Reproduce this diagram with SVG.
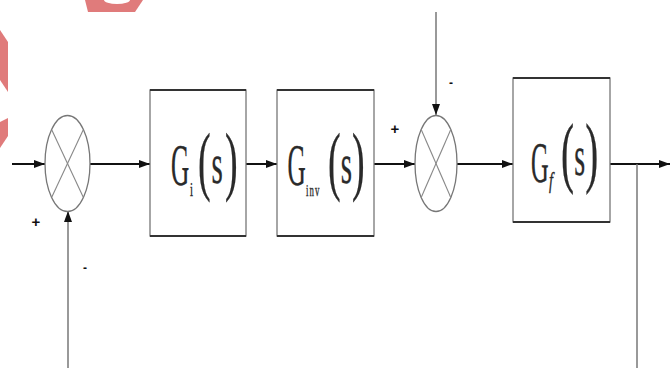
<svg xmlns="http://www.w3.org/2000/svg" width="670" height="368" viewBox="0 0 670 368">
<defs>
<marker id="ah" markerUnits="userSpaceOnUse" markerWidth="12" markerHeight="8" refX="11" refY="4" orient="auto">
<path d="M0,0 L11,4 L0,8 Z" fill="#111"/>
</marker>
<style>
.box{fill:#fff;stroke:#777;stroke-width:1.3}
.edge{stroke:#333;stroke-width:2.2}
.sum{fill:#fff;stroke:#777;stroke-width:1.3}
.x{stroke:#888;stroke-width:1.1}
.h{fill:none;stroke:#111;stroke-width:2}
.v{fill:none;stroke:#777;stroke-width:1.5}
.t{font-family:"Liberation Serif","Times New Roman",serif;fill:#2a2a2a;stroke:#2a2a2a;stroke-width:0.35}
.sg{font-family:"Liberation Sans",Arial,sans-serif;font-weight:bold;fill:#111}
.wm{fill:#e07b7b}
</style>
</defs>
<rect width="670" height="368" fill="#fff"/>
<g id="watermark">
<path class="wm" d="M85,0 L143,0 L135,12 L88,12 Z"/>
<ellipse cx="117" cy="0" rx="13" ry="4" fill="#fff"/>
<path class="wm" d="M0,30 L8,42 L8,92 L0,80 Z"/>
<path class="wm" d="M0,122 L8,118 L8,136 L0,148 Z"/>
</g>
<g id="connectors">
<line class="h" x1="12" y1="164" x2="45" y2="164" marker-end="url(#ah)"/>
<line class="h" x1="90" y1="164" x2="150" y2="164" marker-end="url(#ah)"/>
<line class="h" x1="246" y1="164" x2="277" y2="164" marker-end="url(#ah)"/>
<line class="h" x1="374" y1="164" x2="415" y2="164" marker-end="url(#ah)"/>
<line class="v" x1="436" y1="12" x2="436" y2="115" marker-end="url(#ah)"/>
<line class="h" x1="457" y1="164" x2="513" y2="164" marker-end="url(#ah)"/>
<line class="h" x1="610" y1="164" x2="670" y2="164" marker-end="url(#ah)"/>
<line class="v" x1="637" y1="164" x2="637" y2="368"/>
<line class="v" x1="68" y1="368" x2="68" y2="211" marker-end="url(#ah)"/>
</g>
<g id="sum1">
<ellipse class="sum" cx="67.5" cy="163.5" rx="22.5" ry="48"/>
<line class="x" x1="51.6" y1="129.5" x2="83.4" y2="197.5"/>
<line class="x" x1="83.4" y1="129.5" x2="51.6" y2="197.5"/>
<text class="sg" x="36" y="227" font-size="15" text-anchor="middle">+</text>
<text class="sg" x="85" y="272" font-size="12" text-anchor="middle">-</text>
</g>
<g id="block-Gi">
<rect class="box" x="150" y="90" width="96" height="146"/>
<line class="edge" x1="150" y1="90" x2="246" y2="90"/>
<line class="edge" x1="150" y1="236" x2="246" y2="236"/>
<text class="t" font-size="60" transform="translate(171,185) scale(0.42,1)">G</text>
<text class="t" font-size="18" transform="translate(190,196) scale(0.6,1)">i</text>
<text class="t" font-size="76" transform="translate(198,186) scale(0.5,1)">(</text>
<text class="t" font-size="58" transform="translate(211.5,183) scale(0.5,1)">s</text>
<text class="t" font-size="76" transform="translate(225,186) scale(0.5,1)">)</text>
</g>
<g id="block-Ginv">
<rect class="box" x="277" y="90" width="97" height="146"/>
<line class="edge" x1="277" y1="90" x2="374" y2="90"/>
<line class="edge" x1="277" y1="236" x2="374" y2="236"/>
<text class="t" font-size="60" transform="translate(287.5,185) scale(0.42,1)">G</text>
<text class="t" font-size="16" letter-spacing="2" transform="translate(306,196) scale(0.55,1)">inv</text>
<text class="t" font-size="76" transform="translate(328,186) scale(0.5,1)">(</text>
<text class="t" font-size="58" transform="translate(340.7,183) scale(0.5,1)">s</text>
<text class="t" font-size="76" transform="translate(352,186) scale(0.5,1)">)</text>
</g>
<g id="sum2">
<ellipse class="sum" cx="436" cy="163.5" rx="21" ry="48"/>
<line class="x" x1="421.2" y1="129.5" x2="450.8" y2="197.5"/>
<line class="x" x1="450.8" y1="129.5" x2="421.2" y2="197.5"/>
<text class="sg" x="395" y="134" font-size="15" text-anchor="middle">+</text>
<text class="sg" x="451" y="87" font-size="12" text-anchor="middle">-</text>
</g>
<g id="block-Gf">
<rect class="box" x="513" y="78" width="97" height="144"/>
<line class="edge" x1="513" y1="78" x2="610" y2="78"/>
<line class="edge" x1="513" y1="222" x2="610" y2="222"/>
<text class="t" font-size="58" transform="translate(531,182) scale(0.42,1)">G</text>
<text class="t" font-size="24" font-style="italic" transform="translate(549,188) scale(0.6,1)">f</text>
<text class="t" font-size="78" transform="translate(561,178) scale(0.5,1)">(</text>
<text class="t" font-size="56" transform="translate(574.2,175) scale(0.5,1)">s</text>
<text class="t" font-size="78" transform="translate(585.3,178) scale(0.5,1)">)</text>
</g>
</svg>
